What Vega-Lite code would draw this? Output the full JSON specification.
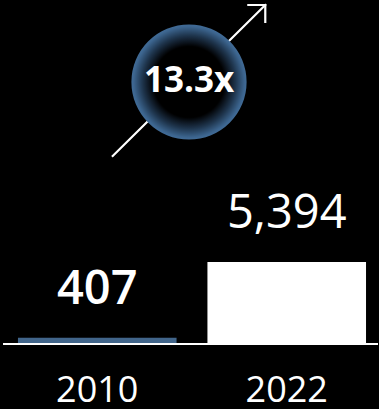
{
  "$schema": "https://vega.github.io/schema/vega-lite/v6.json",
  "width": 379,
  "height": 409,
  "padding": 0,
  "autosize": {"type": "fit", "contains": "padding"},
  "background": "#000000",
  "config": {"view": {"stroke": null}, "font": "Open Sans"},
  "datasets": {
    "bars": [
      {"year": "2010", "value": 407},
      {"year": "2022", "value": 5394}
    ],
    "badge": [{"label": "13.3x", "px": 0.5, "py": 17234}],
    "arrow": [
      {"seg": "shaft", "order": 1, "px": 0.2982, "py": 12367},
      {"seg": "shaft", "order": 2, "px": 0.7018, "py": 22299},
      {"seg": "head", "order": 1, "px": 0.657, "py": 22299},
      {"seg": "head", "order": 2, "px": 0.7018, "py": 22299},
      {"seg": "head", "order": 3, "px": 0.7018, "py": 21181}
    ],
    "base": [{"a": 0.008, "b": 1, "v": 0}]
  },
  "layer": [
    {
      "layer": [
        {
          "data": {"name": "bars"},
          "mark": {"type": "bar", "width": {"band": 1}},
          "encoding": {
            "x": {"field": "year", "type": "nominal", "scale": {"type": "band", "paddingInner": 0.163, "paddingOuter": 0.079, "align": 0.6}, "axis": null},
            "y": {"field": "value", "type": "quantitative", "scale": {"domain": [-4276, 22628], "nice": false, "zero": false}, "axis": null},
            "y2": {"datum": 0},
            "color": {"field": "year", "type": "nominal", "scale": {"domain": ["2010", "2022"], "range": ["#41658a", "#ffffff"]}, "legend": null}
          }
        },
        {
          "data": {"name": "bars"},
          "transform": [{"filter": "datum.year == '2010'"}],
          "mark": {"type": "text", "baseline": "alphabetic", "dy": -34, "fontSize": 47, "fontWeight": 600, "color": "#ffffff"},
          "encoding": {
            "x": {"field": "year", "type": "nominal", "scale": {"type": "band", "paddingInner": 0.163, "paddingOuter": 0.079, "align": 0.6}, "axis": null},
            "y": {"field": "value", "type": "quantitative", "scale": {"domain": [-4276, 22628], "nice": false, "zero": false}, "axis": null},
            "text": {"field": "value", "type": "quantitative", "format": ",d"}
          }
        },
        {
          "data": {"name": "bars"},
          "transform": [{"filter": "datum.year == '2022'"}],
          "mark": {"type": "text", "baseline": "alphabetic", "dy": -34, "fontSize": 47, "fontWeight": 400, "color": "#ffffff"},
          "encoding": {
            "x": {"field": "year", "type": "nominal", "scale": {"type": "band", "paddingInner": 0.163, "paddingOuter": 0.079, "align": 0.6}, "axis": null},
            "y": {"field": "value", "type": "quantitative", "scale": {"domain": [-4276, 22628], "nice": false, "zero": false}, "axis": null},
            "text": {"field": "value", "type": "quantitative", "format": ",d"}
          }
        },
        {
          "data": {"name": "bars"},
          "mark": {"type": "text", "baseline": "alphabetic", "dy": 58, "fontSize": 36, "fontWeight": 400, "color": "#ffffff"},
          "encoding": {
            "x": {"field": "year", "type": "nominal", "scale": {"type": "band", "paddingInner": 0.163, "paddingOuter": 0.079, "align": 0.6}, "axis": null},
            "y": {"datum": 0, "type": "quantitative", "scale": {"domain": [-4276, 22628], "nice": false, "zero": false}, "axis": null},
            "text": {"field": "year", "type": "nominal"}
          }
        }
      ]
    },
    {
      "layer": [
        {
          "data": {"name": "base"},
          "mark": {"type": "rule", "color": "#ffffff", "strokeWidth": 2},
          "encoding": {
            "x": {"field": "a", "type": "quantitative", "scale": {"domain": [0, 1], "nice": false, "zero": false}, "axis": null},
            "x2": {"field": "b"},
            "y": {"field": "v", "type": "quantitative", "scale": {"domain": [-4276, 22628], "nice": false, "zero": false}, "axis": null}
          }
        },
        {
          "data": {"name": "arrow"},
          "mark": {"type": "line", "color": "#ffffff", "strokeWidth": 2.2, "strokeCap": "square", "strokeJoin": "miter"},
          "encoding": {
            "x": {"field": "px", "type": "quantitative", "scale": {"domain": [0, 1], "nice": false, "zero": false}, "axis": null},
            "y": {"field": "py", "type": "quantitative", "scale": {"domain": [-4276, 22628], "nice": false, "zero": false}, "axis": null},
            "detail": {"field": "seg", "type": "nominal"},
            "order": {"field": "order", "type": "quantitative"}
          }
        },
        {
          "data": {"name": "badge"},
          "mark": {
            "type": "circle",
            "size": 13273,
            "opacity": 1,
            "fill": {
              "gradient": "radial",
              "x1": 0.5, "y1": 0.5, "r1": 0,
              "x2": 0.5, "y2": 0.5, "r2": 0.56,
              "stops": [
                {"offset": 0, "color": "#000000"},
                {"offset": 0.55, "color": "#000000"},
                {"offset": 0.72, "color": "#1e344c"},
                {"offset": 0.86, "color": "#3d6690"},
                {"offset": 1, "color": "#4b79a6"}
              ]
            }
          },
          "encoding": {
            "x": {"field": "px", "type": "quantitative", "scale": {"domain": [0, 1], "nice": false, "zero": false}, "axis": null},
            "y": {"field": "py", "type": "quantitative", "scale": {"domain": [-4276, 22628], "nice": false, "zero": false}, "axis": null}
          }
        },
        {
          "data": {"name": "badge"},
          "mark": {"type": "text", "fontSize": 35, "fontWeight": "bold", "color": "#ffffff", "baseline": "alphabetic", "dy": 10},
          "encoding": {
            "x": {"field": "px", "type": "quantitative", "scale": {"domain": [0, 1], "nice": false, "zero": false}, "axis": null},
            "y": {"field": "py", "type": "quantitative", "scale": {"domain": [-4276, 22628], "nice": false, "zero": false}, "axis": null},
            "text": {"field": "label", "type": "nominal"}
          }
        }
      ]
    }
  ],
  "resolve": {"scale": {"x": "independent"}}
}
